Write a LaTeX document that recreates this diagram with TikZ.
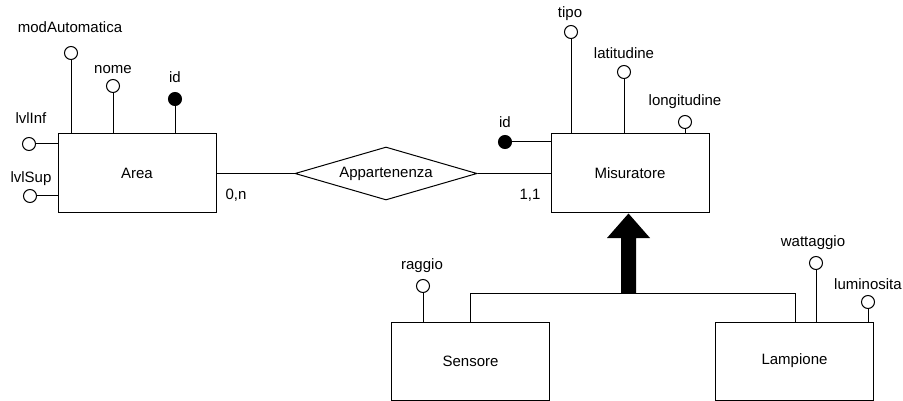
\documentclass[tikz,border=0pt]{standalone}
\usepackage{fontspec}
\setmainfont{Liberation Sans}
\usetikzlibrary{shapes.geometric}
\begin{document}
\begin{tikzpicture}[x=1pt,y=-1pt,
  every node/.style={font=\fontsize{15}{18}\selectfont},
  entity/.style={draw, line width=1pt, minimum width=158pt, minimum height=79pt, inner sep=0pt},
  attr/.style={draw, circle, line width=1pt, minimum size=13pt, inner sep=0pt, fill=white},
  keyattr/.style={attr, fill=black},
  lbl/.style={inner sep=0pt},
  conn/.style={line width=1pt},
  relship/.style={draw, diamond, line width=1pt, minimum width=182pt, minimum height=53pt, inner sep=0pt, aspect=3.4}]
\useasboundingbox (0,0) rectangle (903,401);

% entities
\node[entity] (area) at (137,173.5) {Area};
\node[entity] (mis) at (630,173.5) {Misuratore};
\node[entity, minimum height=78pt] (sens) at (470.5,361) {Sensore};
\node[entity, minimum height=78pt] (lamp) at (794.5,361) {Lampione};
\node[relship] (app) at (386,173.5) {Appartenenza};

% relationship edges
\draw[conn] (area.east) -- (app.west);
\draw[conn] (app.east) -- (mis.west);
\node[lbl] (c1) at (236,195) {0,n};
\node[lbl] (c2) at (530,195) {1,1};

% Area attributes
\node[attr] (a1) at (71,53) {};   \node[lbl] (l1) at (70,27) {modAutomatica};
\node[attr] (a2) at (113,86) {};  \node[lbl] (l2) at (113,70) {nome};
\node[keyattr] (a3) at (175,99) {}; \node[lbl] (l3) at (175,77) {id};
\node[attr] (a4) at (29,144) {};  \node[lbl] (l4) at (31,118) {lvlInf};
\node[attr] (a5) at (30,196) {};  \node[lbl] (l5) at (31,179) {lvlSup};
\draw[conn] (a1) -- (a1 |- area.north);
\draw[conn] (a2) -- (a2 |- area.north);
\draw[conn] (a3) -- (a3 |- area.north);
\draw[conn] (a4) -- (a4 -| area.west);
\draw[conn] (a5) -- (a5 -| area.west);

% Misuratore attributes
\node[keyattr] (m1) at (505,142) {}; \node[lbl] (k1) at (505,122) {id};
\node[attr] (m2) at (571,32) {};  \node[lbl] (k2) at (570,14) {tipo};
\node[attr] (m3) at (624,72) {};  \node[lbl] (k3) at (624,53) {latitudine};
\node[attr] (m4) at (685,122) {}; \node[lbl] (k4) at (685,102) {longitudine};
\draw[conn] (m1) -- (m1 -| mis.west);
\draw[conn] (m2) -- (m2 |- mis.north);
\draw[conn] (m3) -- (m3 |- mis.north);
\draw[conn] (m4) -- (m4 |- mis.north);

% Sensore / Lampione attributes
\node[attr] (s1) at (423,286) {}; \node[lbl] (t1) at (422,266) {raggio};
\node[attr] (p1) at (816,263) {}; \node[lbl] (q1) at (813,243) {wattaggio};
\node[attr] (p2) at (868,302) {}; \node[lbl] (q2) at (868,284) {luminosita};
\draw[conn] (s1) -- (s1 |- sens.north);
\draw[conn] (p1) -- (p1 |- lamp.north);
\draw[conn] (p2) -- (p2 |- lamp.north);

% generalization
\coordinate (hl) at (470,293);
\coordinate (hr) at (795,293);
\draw[conn] (sens.north -| hl) -- (hl) -- (hr) -- (lamp.north -| hr);
\coordinate (tip) at (628.5,213.5);
\fill (621,293) -- (621,238) -- (607,238) -- (tip) -- (650,238) -- (636,238) -- (636,293) -- cycle;
\end{tikzpicture}
\end{document}
